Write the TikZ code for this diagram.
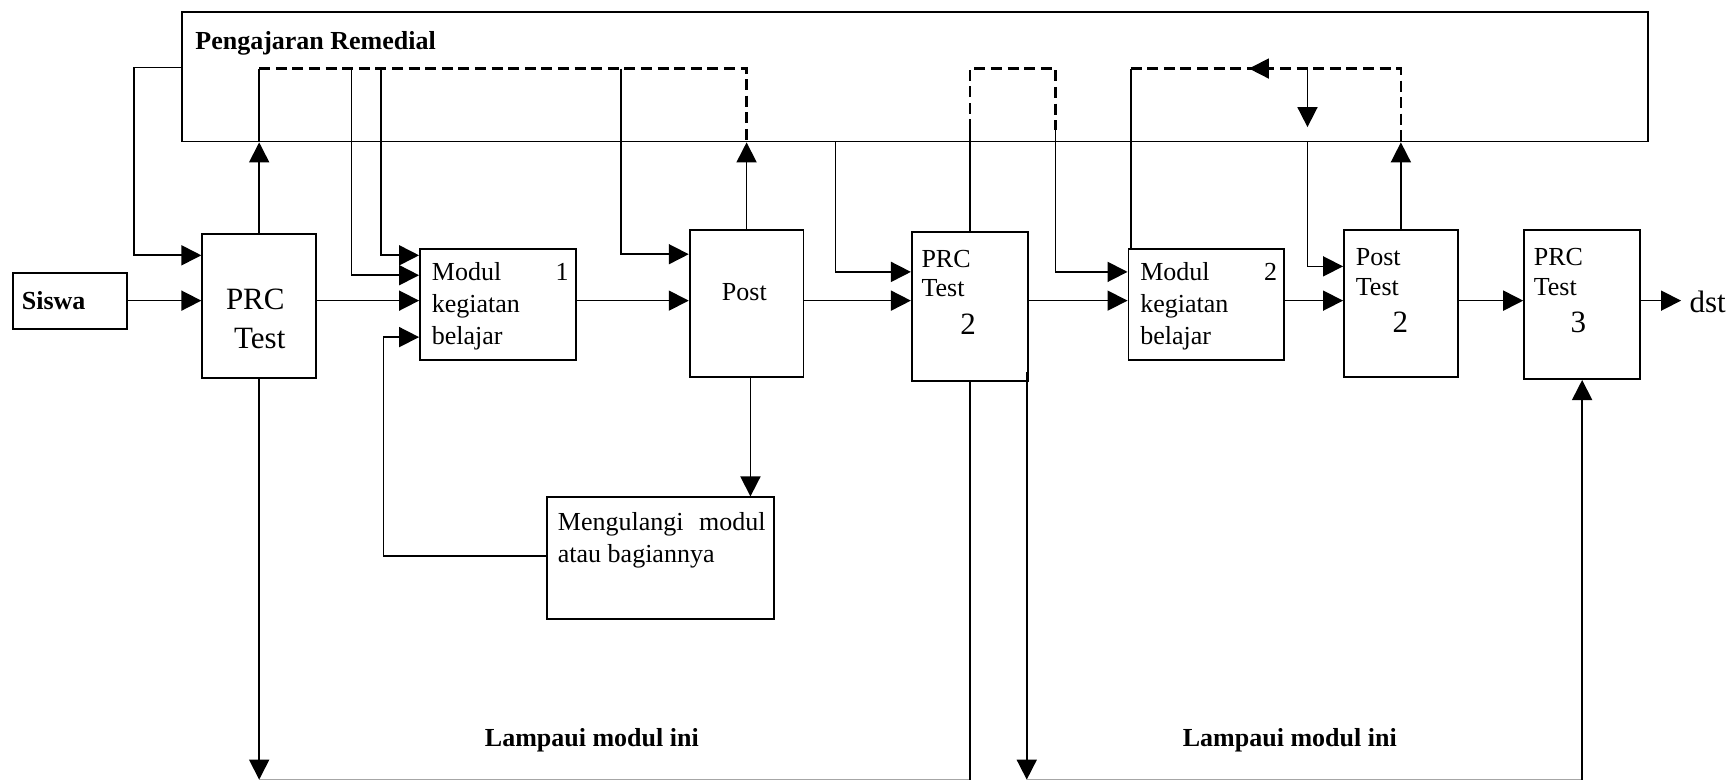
\documentclass[tikz,border=0pt]{standalone}
\usepackage{fontspec}
\setmainfont{Liberation Serif}
\usetikzlibrary{arrows.meta,fit}
\begin{document}
\begin{tikzpicture}[x=0.5526pt,y=-0.5526pt,
  line width=0.85pt,
  box/.style={draw,line width=0.9pt,inner sep=0pt},
  arr/.style={-{Triangle[length=10pt,width=10pt]}},
  dsh/.style={dash pattern=on 5.5pt off 2.8pt,line width=1.2pt},
  txt/.style={inner sep=0pt,anchor=base west,font=\fontsize{13}{15}\selectfont},
  btxt/.style={inner sep=0pt,anchor=base west,font=\bfseries\fontsize{13}{15}\selectfont},
  big/.style={inner sep=0pt,anchor=base,font=\fontsize{15.5}{18}\selectfont},
  botline/.style={draw=black!35,line width=0.6pt}
]
\useasboundingbox (0,0) rectangle (1568,706);
% boxes
\node[box,fit={(165,11)(1491,128)}] (rem) {};
\node[box,fit={(12,247)(115,298)}] (siswa) {};
\node[box,fit={(183,212)(286,342)}] (prc1) {};
\node[box,fit={(380,225)(521,326)}] (mod1) {};
\node[box,fit={(624,208)(727,341)}] (post1) {};
\node[box,fit={(825,210)(930,345)}] (prc2) {};
\node[box,fit={(1021,225)(1162,326)}] (mod2) {};
\node[box,fit={(1216,208)(1319,341)}] (post2) {};
\node[box,fit={(1379,208)(1484,343)}] (prc3) {};
\node[box,fit={(495,450)(700,560)}] (ulang) {};
% texts
\node[btxt] (tRem) at (176,44.6) {Pengajaran Remedial};
\node[btxt] (tSis) at (19,280) {Siswa};
\node[big] (tP1a) at (231,280) {PRC};
\node[big] (tP1b) at (235,315) {Test};
\node[txt] (tM1a) at (390,254) {Modul};
\node[txt] (tM1n) at (502,254) {1};
\node[txt] (tM1b) at (390,283) {kegiatan};
\node[txt] (tM1c) at (390,311.6) {belajar};
\node[txt,anchor=base] (tPo1) at (673.5,272) {Post};
\node[txt] (tP2a) at (833,242) {PRC};
\node[txt] (tP2b) at (833,268.4) {Test};
\node[big] (tP2n) at (876,302.5) {2};
\node[txt] (tM2a) at (1031,254) {Modul};
\node[txt] (tM2n) at (1143,254) {2};
\node[txt] (tM2b) at (1031,283) {kegiatan};
\node[txt] (tM2c) at (1031,311.6) {belajar};
\node[txt] (tQ2a) at (1226,240) {Post};
\node[txt] (tQ2b) at (1226,267) {Test};
\node[big] (tQ2n) at (1267,300.7) {2};
\node[txt] (tP3a) at (1387,240) {PRC};
\node[txt] (tP3b) at (1387,267) {Test};
\node[big] (tP3n) at (1428,300.7) {3};
\node[txt] (tUa) at (504,480) {Mengulangi\hspace{0.6em}modul};
\node[txt] (tUb) at (504,509) {atau bagiannya};
\node[big,anchor=base west] (tDst) at (1528,282.6) {dst};
\node[btxt,anchor=base] (tL1) at (535.5,675.6) {Lampaui modul ini};
\node[btxt,anchor=base] (tL2) at (1167,675.6) {Lampaui modul ini};
% helper coordinates
\coordinate (ml) at (0,272);
\coordinate (top) at (0,62);
\coordinate (h231) at (0,231);
\coordinate (h249) at (0,249);
\coordinate (h230) at (0,230);
\coordinate (h246) at (0,246);
\coordinate (h241) at (0,241);
\coordinate (h305) at (0,305);
\coordinate (t118) at (0,118);
\coordinate (bot) at (0,705.4);
\coordinate (L1) at (121,61);
\coordinate (d1) at (318,62);
\coordinate (d2) at (345,62);
\coordinate (d3) at (562,62);
\coordinate (u1) at (347,503);
\coordinate (pd) at (679,0);
\coordinate (r2) at (756,0);
\coordinate (c955) at (955,62);
\coordinate (c955b) at (955,118);
\coordinate (m2) at (1023,62);
\coordinate (k) at (1183,62);
\coordinate (kb) at (1183,115);
\coordinate (la) at (1147,62);
\coordinate (lb) at (1130,62);
\coordinate (e929) at (929,337);
\coordinate (dstpt) at (1521,272);
% bottom lines
\draw[botline] (prc1.south |- bot) -- (prc2.south |- bot);
\draw[botline] (e929 |- bot) -- (prc3.south |- bot);
% main flow
\draw[arr] (siswa.east |- ml) -- (prc1.west |- ml);
\draw[arr] (prc1.east |- ml) -- (mod1.west |- ml);
\draw[arr] (mod1.east |- ml) -- (post1.west |- ml);
\draw[arr] (post1.east |- ml) -- (prc2.west |- ml);
\draw[arr] (prc2.east |- ml) -- (mod2.west |- ml);
\draw[arr] (mod2.east |- ml) -- (post2.west |- ml);
\draw[arr] (post2.east |- ml) -- (prc3.west |- ml);
\draw[arr] (prc3.east |- ml) -- (dstpt);
% left loop
\draw[arr] (rem.west |- L1) -- (L1) |- (prc1.west |- h231);
% PRC1 / Post1 remedial loop
\draw[arr] (prc1.north) -- (prc1.north |- rem.south);
\draw (prc1.north |- rem.south) -- (prc1.north |- top);
\draw[dsh] (prc1.north |- top) -- (post1.north |- top) -- (post1.north |- rem.south);
\draw[arr] (post1.north) -- (post1.north |- rem.south);
\draw[arr] (d1) |- (mod1.west |- h249);
\draw[arr] (d2) |- (mod1.west |- h231);
\draw[arr] (d3) |- (post1.west |- h230);
% repeat loop
\draw[arr] (post1.south -| pd) -- (ulang.north -| pd);
\draw[arr] (ulang.west |- u1) -- (u1) |- (mod1.west |- h305);
% PRC2 inputs
\draw[arr] (rem.south -| r2) |- (prc2.west |- h246);
\draw (prc2.north) -- (prc2.north |- t118);
\draw[dsh] (prc2.north |- t118) -- (prc2.north |- top) -- (c955) -- (c955b);
\draw[arr] (c955b) |- (mod2.west |- h246);
% module 2 loop
\draw (mod2.north -| m2) -- (m2);
\draw[dsh] (m2) -- (post2.north |- top) -- (post2.north |- rem.south);
\draw[arr] (post2.north) -- (post2.north |- rem.south);
\draw[arr] (la) -- (lb);
\draw[arr] (k) -- (kb);
\draw[arr] (rem.south -| k) |- (post2.west |- h241);
% skip paths
\draw[arr] (prc1.south) -- (prc1.south |- bot);
\draw (prc2.south) -- (prc2.south |- bot);
\draw[arr] (e929) -- (e929 |- bot);
\draw[arr] (prc3.south |- bot) -- (prc3.south);
\end{tikzpicture}
\end{document}
